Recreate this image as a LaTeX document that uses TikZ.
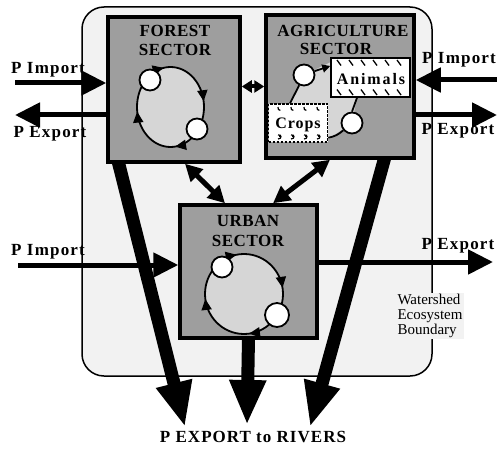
\documentclass[tikz,border=0pt]{standalone}
\usepackage{fontspec}
\setmainfont{Liberation Serif}
\newfontfamily\lblfont[LetterSpace=7]{Liberation Serif}
\newfontfamily\ttlfont[LetterSpace=3]{Liberation Serif}
\newfontfamily\boxfont[LetterSpace=12]{Liberation Serif}
\newfontfamily\crpfont[LetterSpace=6]{Liberation Serif}
\newfontfamily\rivfont[LetterSpace=6]{Liberation Serif}
\usetikzlibrary{arrows.meta,decorations.markings}
\definecolor{boxgray}{gray}{0.62}
\definecolor{lightdot}{gray}{0.84}
\definecolor{bggray}{gray}{0.95}
\tikzset{
  sector/.style={draw, line width=3.5pt, fill=boxgray, inner sep=0pt},
  flowarrow/.style={line width=5pt, -{Triangle[length=25pt,width=24pt]}},
  bigarrow/.style={line width=13pt, -{Triangle[length=45pt,width=34pt]}},
  linkarrow/.style={line width=5pt, {Triangle[length=17pt,width=17pt]}-{Triangle[length=17pt,width=17pt]}},
  smalllink/.style={line width=4pt, {Triangle[length=10pt,width=12pt]}-{Triangle[length=10pt,width=12pt]}},
  loopline/.style={line width=1.8pt},
  loopmarks/.style={postaction={decorate}, decoration={markings,
     mark=at position 0.23 with {\arrow{Triangle[length=11pt,width=10pt]}},
     mark=at position 0.48 with {\arrow{Triangle[length=11pt,width=10pt]}},
     mark=at position 0.72 with {\arrow{Triangle[length=11pt,width=10pt]}},
     mark=at position 0.975 with {\arrow{Triangle[length=11pt,width=10pt]}}}},
  pool/.style={circle, draw, line width=1.8pt, fill=white, minimum size=21pt, inner sep=0pt},
  flowlabel/.style={font=\lblfont\bfseries\fontsize{17}{19}\selectfont, inner sep=0pt},
  titlelabel/.style={font=\ttlfont\bfseries\fontsize{17}{19}\selectfont, align=center, inner sep=0pt},
  store/.style={draw, line width=1.5pt, fill=white, inner sep=0pt},
}
\begin{document}
\begin{tikzpicture}[x=1pt,y=-1pt]
\useasboundingbox (0,0) rectangle (497,449);
% watershed boundary
\draw[line width=1.5pt, rounded corners=22pt, fill=bggray] (82,7) rectangle (432,376);
\node[font=\fontsize{15}{15}\selectfont, align=left, fill=bggray, inner sep=1pt] (wlabel) at (430,316) {Watershed\\Ecosystem\\Boundary};

% sectors
\node[sector, minimum width=132pt, minimum height=145pt] (forest) at (174,89.5) {};
\node[sector, minimum width=148pt, minimum height=143pt] (agri) at (340,86.5) {};
\node[sector, minimum width=137pt, minimum height=133pt] (urban) at (248.5,271.5) {};

% free ends
\coordinate (iL1) at (15,83);
\coordinate (eL1) at (15,115);
\coordinate (iR1) at (497,80);
\coordinate (eR1) at (497,115);
\coordinate (iL2) at (18,265);
\coordinate (eR2) at (493,262);
\coordinate (rv1) at (185,427);
\coordinate (rv2) at (247,425);
\coordinate (rv3) at (310,427);

% import / export arrows
\draw[flowarrow] (iL1) -- (iL1 -| forest.west);
\draw[flowarrow] (forest.west |- eL1) -- (eL1);
\draw[flowarrow] (iR1) -- (iR1 -| agri.east);
\draw[flowarrow] (agri.east |- eR1) -- (eR1);
\draw[flowarrow] (iL2) -- (iL2 -| urban.west);
\draw[flowarrow] (urban.east |- eR2) -- (eR2);

% big export arrows to rivers
\draw[bigarrow] ([xshift=12pt,yshift=2pt]forest.south west) -- (rv1);
\draw[bigarrow] ([yshift=2pt]urban.south) -- (rv2);
\draw[bigarrow] ([xshift=-31pt,yshift=2pt]agri.south east) -- (rv3);

% redraw sectors on top of arrow starts
\node[sector, minimum width=132pt, minimum height=145pt] (forestb) at (forest) {};
\node[sector, minimum width=148pt, minimum height=143pt] (agrib) at (agri) {};
\node[sector, minimum width=137pt, minimum height=133pt] (urbanb) at (urban) {};

% links between sectors
\draw[smalllink] (forest.east |- agri.west) -- (agri.west);
\draw[linkarrow] ([xshift=11pt]forest.south) -- ([xshift=-23.5pt]urban.north);
\draw[linkarrow] ([xshift=-10pt]agri.south) -- ([xshift=24.5pt]urban.north);

% titles
\node[titlelabel] (ftitle) at (175,40.5) {FOREST\\SECTOR};
\node[titlelabel] (atitle1) at (343,31) {AGRICULTURE};
\node[titlelabel] (atitle2) at (336,49) {SECTOR};
\node[titlelabel, font=\ttlfont\bfseries\fontsize{17}{20}\selectfont] (utitle) at (248,230.5) {URBAN\\SECTOR};

% forest loop
\fill[lightdot] (170.5,107) ellipse [x radius=33.5, y radius=40];
\draw[loopline, loopmarks] (170.5,107) ellipse [x radius=33.5, y radius=40];
\node[pool] (fp1) at (150,80) {};
\node[pool] (fp2) at (197,129) {};

% urban loop
\fill[lightdot] (244,294) ellipse [x radius=39, y radius=40];
\draw[loopline, loopmarks] (244,294) ellipse [x radius=39, y radius=40];
\node[pool] (up1) at (222,267) {};
\node[pool, minimum width=24pt] (up2) at (277,315) {};

% agriculture internals
\fill[lightdot] (304,75) -- (331,62) -- (331,97) -- (357,97) -- (352,123) -- (327,140) -- (327,104) -- (290,104) -- cycle;
\node[store, minimum width=79pt, minimum height=39pt] (animals) at (370.5,77.5) {};
\foreach \x in {337,349,361,373,385,397} {
  \draw[line width=1.3pt] (\x,60) -- (\x+4,65.5);
  \draw[line width=1.3pt] (\x,89.5) -- (\x+4,95);
}
\node[font=\boxfont\bfseries\fontsize{16}{18}\selectfont, inner sep=0pt] (animalstext) at (371,79) {Animals};
\node[draw, line width=1.5pt, dash pattern=on 2.5pt off 1.5pt, fill=white, minimum width=59pt, minimum height=38pt, inner sep=0pt] (crops) at (298,123) {};
\foreach \x in {280,293,306,319} {
  \draw[line width=1.2pt] (\x-2,107) arc[start angle=200, end angle=90, radius=2.5];
  \draw[line width=1.2pt] (\x-2,135) .. controls (\x+2,134) and (\x+2,139) .. (\x-2,139);
  \draw[line width=1.2pt] (\x,135) -- (\x,137);
}
\node[font=\crpfont\bfseries\fontsize{16}{18}\selectfont, inner sep=0pt] (cropstext) at (298,125) {Crops};
\node[pool] (ap1) at (304,75) {};
\node[pool] (ap2) at (352,123) {};
\draw[loopline, -{Triangle[length=8pt,width=8pt]}] (ap1.20) -- ([yshift=11.5pt]animals.west);
\draw[loopline] ([xshift=-8pt]crops.north) -- (ap1.245);
\draw[loopline] ([xshift=-13.5pt]animals.south) -- (ap2.north);
\draw[loopline] (ap2.220) to[bend left=15] ([yshift=5pt]crops.south east);

% flow labels
\node[flowlabel] (tiL1) at (48,70) {P Import};
\node[flowlabel] (teL1) at (50,134) {P Export};
\node[flowlabel] (tiR1) at (459,60) {P Import};
\node[flowlabel] (teR1) at (458,131) {P Export};
\node[flowlabel] (tiL2) at (48,252) {P Import};
\node[flowlabel] (teR2) at (458,246) {P Export};
\node[flowlabel, font=\rivfont\bfseries\fontsize{17}{19}\selectfont] (rivers) at (253,437) {P EXPORT to RIVERS};
\end{tikzpicture}
\end{document}
